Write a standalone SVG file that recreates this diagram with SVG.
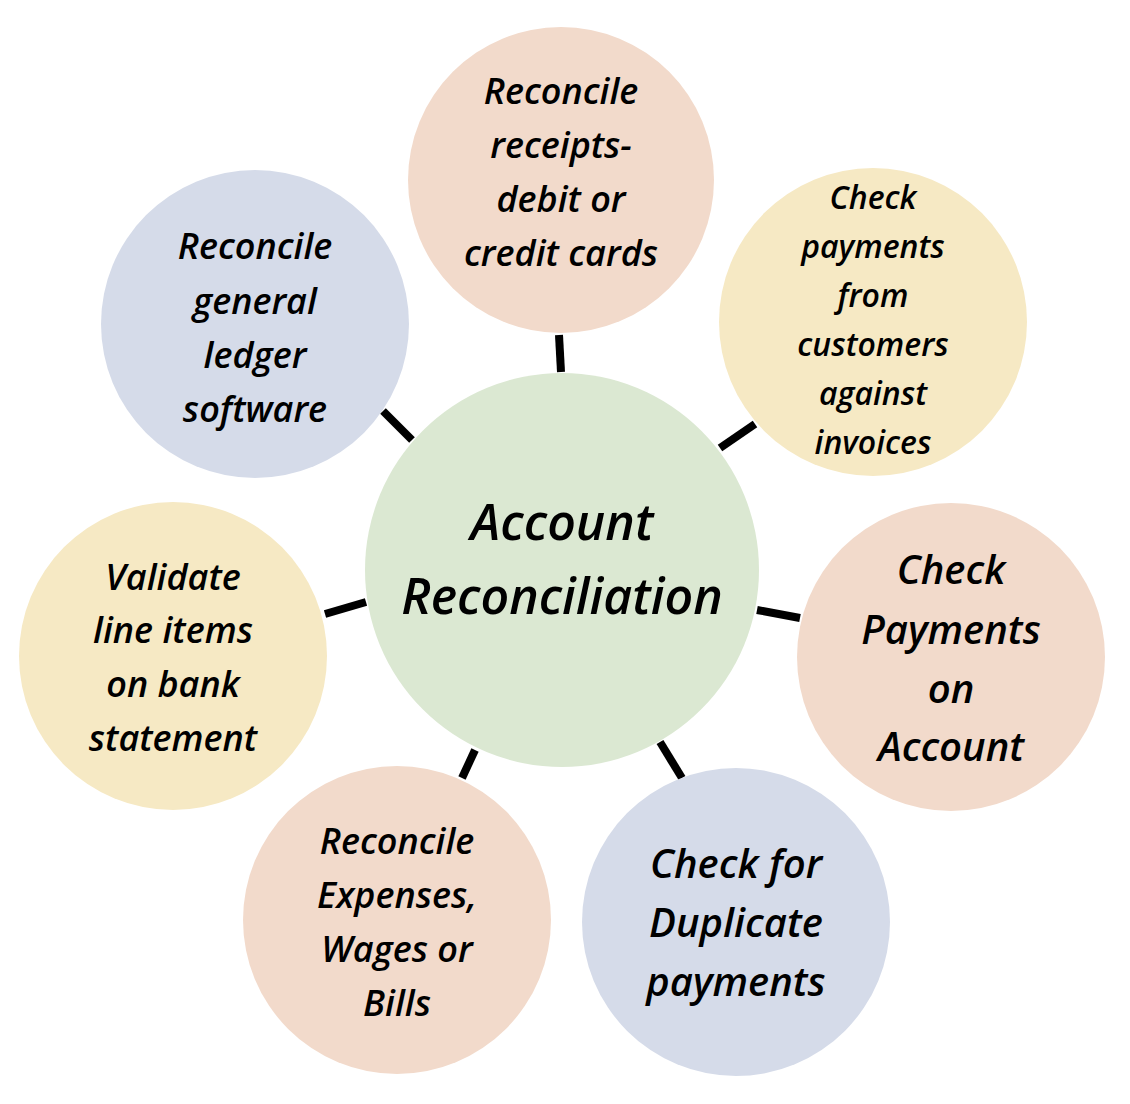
<svg xmlns="http://www.w3.org/2000/svg" width="1130" height="1104" viewBox="0 0 1130 1104">
<style>
text{font-family:"Open Sans","Noto Sans",sans-serif;font-style:italic;font-weight:600;fill:#000;text-anchor:middle}
.peach{fill:#f2dacb}.yellow{fill:#f6e9c4}.blue{fill:#d5dbe9}.green{fill:#dbe8d2}
.c line{stroke:#000;stroke-width:8}
</style>
<rect width="1130" height="1104" fill="#fff"/>
<g class="c" id="connectors">
<line x1="559" y1="335" x2="561" y2="372"/>
<line x1="720" y1="448" x2="755" y2="424"/>
<line x1="757" y1="610" x2="800" y2="618"/>
<line x1="660" y1="742" x2="682" y2="778"/>
<line x1="475" y1="750" x2="462" y2="778"/>
<line x1="325" y1="614" x2="366" y2="602"/>
<line x1="383" y1="411" x2="412" y2="440"/>
</g>
<g id="center"><circle class="green" cx="562" cy="570" r="197"/>
<text font-size="50" font-weight="700"><tspan x="562" y="540">Account</tspan><tspan x="562" y="614">Reconciliation</tspan></text></g>
<g id="top"><circle class="peach" cx="561" cy="180" r="153"/>
<text font-size="36"><tspan x="561" y="104">Reconcile</tspan><tspan x="561" y="158">receipts-</tspan><tspan x="561" y="212">debit or</tspan><tspan x="561" y="266">credit cards</tspan></text></g>
<g id="topright"><circle class="yellow" cx="873" cy="322" r="154"/>
<text font-size="32"><tspan x="873" y="209">Check</tspan><tspan x="873" y="258">payments</tspan><tspan x="873" y="307">from</tspan><tspan x="873" y="356">customers</tspan><tspan x="873" y="405">against</tspan><tspan x="873" y="454">invoices</tspan></text></g>
<g id="right"><circle class="peach" cx="951" cy="657" r="154"/>
<text font-size="40"><tspan x="951" y="584">Check</tspan><tspan x="951" y="644">Payments</tspan><tspan x="951" y="703">on</tspan><tspan x="951" y="761">Account</tspan></text></g>
<g id="bottomright"><circle class="blue" cx="736" cy="922" r="154"/>
<text font-size="40"><tspan x="736" y="878">Check for</tspan><tspan x="736" y="937">Duplicate</tspan><tspan x="736" y="996">payments</tspan></text></g>
<g id="bottomleft"><circle class="peach" cx="397" cy="920" r="154"/>
<text font-size="36"><tspan x="397" y="854">Reconcile</tspan><tspan x="397" y="908">Expenses,</tspan><tspan x="397" y="962">Wages or</tspan><tspan x="397" y="1016">Bills</tspan></text></g>
<g id="left"><circle class="yellow" cx="173" cy="656" r="154"/>
<text font-size="36"><tspan x="173" y="590">Validate</tspan><tspan x="173" y="643">line items</tspan><tspan x="173" y="697">on bank</tspan><tspan x="173" y="751">statement</tspan></text></g>
<g id="topleft"><circle class="blue" cx="255" cy="324" r="154"/>
<text font-size="36"><tspan x="255" y="259">Reconcile</tspan><tspan x="255" y="314">general</tspan><tspan x="255" y="368">ledger</tspan><tspan x="255" y="422">software</tspan></text></g>
</svg>
